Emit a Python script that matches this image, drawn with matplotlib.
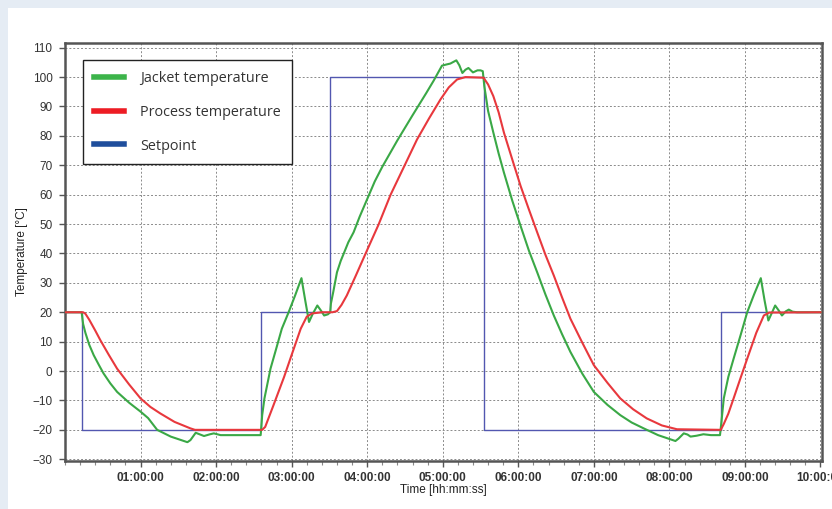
import matplotlib
matplotlib.use('Agg')
import matplotlib.pyplot as plt
from matplotlib.patches import Rectangle
from matplotlib.ticker import FixedLocator, MultipleLocator, FuncFormatter

# Time in hours, temperature in deg C
jacket_t = [0, 0.22, 0.24, 0.27, 0.32, 0.38, 0.45, 0.51, 0.6, 0.69, 0.85, 1.0, 1.1, 1.22,
            1.4, 1.62, 1.66, 1.73, 1.78, 1.84, 1.92, 1.97, 2.06, 2.3, 2.59, 2.61, 2.64,
            2.72, 2.8, 2.87, 2.96, 3.05, 3.13, 3.18, 3.23, 3.28, 3.34, 3.39, 3.43, 3.48,
            3.51, 3.52, 3.55, 3.6, 3.65, 3.69, 3.75, 3.82, 3.9, 4.0, 4.1, 4.2, 4.4, 4.6,
            4.78, 4.88, 4.99, 5.05, 5.1, 5.18, 5.22, 5.26, 5.3, 5.34, 5.4, 5.46, 5.5,
            5.53, 5.55, 5.6, 5.67, 5.74, 5.81, 5.92, 6.03, 6.14, 6.25, 6.36, 6.47, 6.58,
            6.69, 6.85, 7.0, 7.18, 7.35, 7.5, 7.66, 7.85, 8.08, 8.12, 8.19, 8.24, 8.28,
            8.36, 8.45, 8.55, 8.67, 8.69, 8.72, 8.78, 8.85, 8.94, 9.03, 9.12, 9.21, 9.26,
            9.31, 9.36, 9.4, 9.45, 9.49, 9.54, 9.58, 9.63, 9.69, 10.0]
jacket_v = [20, 20, 16, 13, 9, 5.4, 2, -0.8, -4.2, -7.1, -10.8, -13.8, -16, -20,
            -22.3, -24.2, -23.5, -21, -21.5, -22.1, -21.5, -21.2, -21.8, -21.8, -21.8, -15, -9.3,
            0.8, 8, 14.4, 20, 26, 31.6, 24, 16.7, 19.5, 22.3, 20.5, 18.9, 19.3,
            20, 23, 26.8, 33.6, 37.5, 40, 43.8, 47.2, 52.5, 58.5, 64.5, 69.5, 78.5, 87,
            94.5, 98.8, 103.9, 104.3, 104.6, 105.7, 104, 101.4, 102.5, 103.1, 101.6, 102.3, 102.3,
            102, 97, 88.5, 81.1, 74, 67.5, 58, 49.4, 41, 33.6, 26, 18.9, 12.5,
            6.5, -1, -7.1, -11.5, -15, -17.5, -19.5, -21.8, -23.8, -23, -21.2, -21.6, -22.3,
            -22, -21.5, -21.8, -21.8, -17, -9.3, -2, 4.2, 12, 20, 26, 31.6, 24,
            17.2, 20, 22.3, 20.5, 18.9, 20.3, 20.9, 20.2, 20, 20]

process_t = [0, 0.24, 0.27, 0.32, 0.4, 0.47, 0.58, 0.69, 0.85, 1.0, 1.13, 1.26, 1.45, 1.66,
             1.72, 2.61, 2.65, 2.76, 2.9, 3.0, 3.12, 3.2, 3.27, 3.4, 3.54, 3.6, 3.66, 3.73,
             3.85, 4.0, 4.15, 4.31, 4.5, 4.66, 4.82, 4.97, 5.08, 5.19, 5.3, 5.54, 5.6, 5.67,
             5.74, 5.81, 5.92, 6.03, 6.14, 6.25, 6.36, 6.47, 6.58, 6.69, 6.85, 7.0, 7.18,
             7.35, 7.52, 7.7, 7.9, 8.1, 8.68, 8.72, 8.78, 8.85, 8.94, 9.03, 9.15, 9.25, 9.32,
             10.0]
process_v = [20, 20, 19.5, 17.5, 13.8, 10.4, 5.5, 0.8, -4.6, -9.3, -12.2, -14.4, -17.3, -19.5,
             -20, -20, -19, -11.6, -2, 5.5, 14.4, 18.5, 19.6, 20, 20, 20.4, 22.5, 25.7,
             32.5, 41.2, 49.8, 60, 70.2, 78.8, 86, 92.4, 96.5, 99.2, 100, 99.8, 97.5, 93.5,
             88, 81.1, 72, 63, 55, 47.2, 39.5, 32.5, 25, 17.8, 9.5, 2, -4,
             -9.3, -13, -16.1, -18.5, -19.8, -20, -18, -14.5, -9.3, -2.5, 4.2, 13, 18.9, 19.9,
             20]

setpoint_t = [0, 0.22, 2.59, 3.51, 5.54, 8.68, 10.0]
setpoint_v = [20, -20, 20, 100, -20, 20, 20]

hour_ticks = [1, 2, 3, 4, 5, 6, 7, 8, 9, 10]
temp_ticks = list(range(-30, 111, 10))

green = '#3aa846'
red = '#e8383d'
blue = '#5257b0'
narrow = ['Liberation Sans Narrow', 'Liberation Sans']

fig = plt.figure(figsize=(8.32, 5.09), dpi=100)
fig.patch.set_facecolor('#e5ecf4')
fig.patches.append(Rectangle((8 / 832, 0), 1, 1 - 8 / 509, transform=fig.transFigure,
                             facecolor='white', edgecolor='none', zorder=-1))

ax = fig.add_axes([65 / 832, 48 / 509, 757 / 832, 418 / 509])
ax.set_facecolor('white')

ax.plot(setpoint_t, setpoint_v, drawstyle='steps-post', color=blue, lw=1.0, zorder=3)
ax.plot(jacket_t, jacket_v, color=green, lw=1.5, zorder=4)
ax.plot(process_t, process_v, color=red, lw=1.5, zorder=5)

ax.set_xlim(0, 10.02)
ax.set_ylim(-30.6, 111.6)

ax.xaxis.set_major_locator(FixedLocator(hour_ticks))
ax.xaxis.set_minor_locator(MultipleLocator(0.2))
ax.xaxis.set_major_formatter(FuncFormatter(lambda h, p: '%02d:00:00' % round(h)))
ax.yaxis.set_major_locator(FixedLocator(temp_ticks))

for lab in ax.get_xticklabels():
    lab.set(family=narrow, size=8.5, fontweight='bold', color='#333333')
for lab in ax.get_yticklabels():
    lab.set(family=narrow, size=8.5, color='#333333')

ax.tick_params(axis='both', which='major', length=4, width=1, color='#555555')
ax.tick_params(axis='y', which='major', pad=5)
ax.tick_params(axis='x', which='major', pad=4)
ax.tick_params(axis='x', which='minor', length=3, width=0.8, color='#888888')

ax.grid(True, which='major', color='#8a8a8a', linestyle=(0, (2, 2)), linewidth=0.7)
for side in ax.spines.values():
    side.set_color('#555555')
    side.set_linewidth(1.8)

ax.set_xlabel('Time [hh:mm:ss]', family=narrow, fontsize=8.5, color='#222222', labelpad=0)
ax.set_ylabel('Temperature [°C]', family=narrow, fontsize=8.5, color='#222222', labelpad=3.5)

handles = [plt.Line2D([], [], color='#3cb44a', lw=4),
           plt.Line2D([], [], color='#ed1c24', lw=4),
           plt.Line2D([], [], color='#1f4e9c', lw=4)]
leg = ax.legend(handles, ['Jacket temperature', 'Process temperature', 'Setpoint'],
                loc='upper left', bbox_to_anchor=(0.024, 0.959), borderaxespad=0,
                prop={'family': 'Open Sans', 'size': 10.4}, labelcolor='#333333',
                fancybox=False, framealpha=1, edgecolor='#222222',
                handlelength=2.1, handletextpad=1.1, labelspacing=1.3,
                borderpad=0.75)
leg.get_frame().set_linewidth(1.0)
leg.set_zorder(10)

fig.savefig('out.png', dpi=100, facecolor=fig.get_facecolor())
